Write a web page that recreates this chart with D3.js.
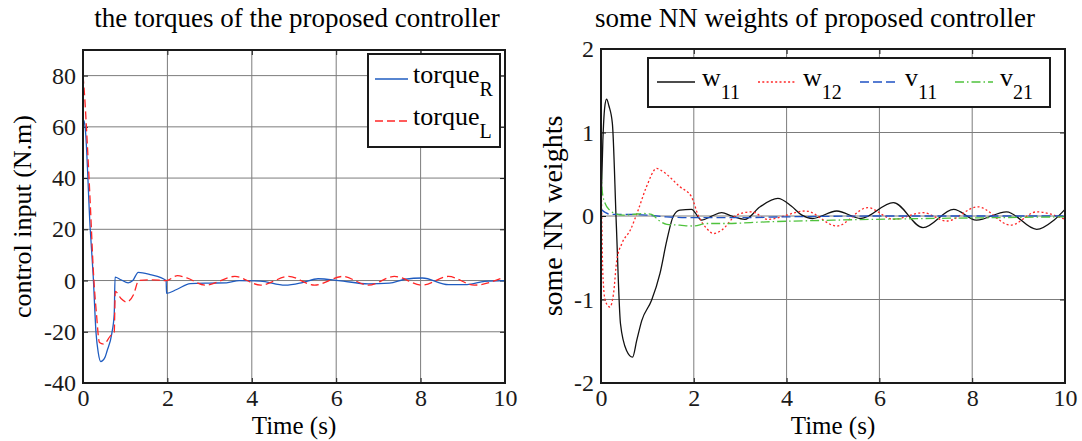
<!DOCTYPE html>
<html>
  <head>
    <meta charset="utf-8">
    <title>torques and NN weights of the proposed controller</title>
    <script src="https://cdn.jsdelivr.net/npm/d3@7"></script>
    <style>
      body { margin: 0; background: #fff; }
      svg, svg text { font-family: "Liberation Serif", "Times New Roman", serif; }
      svg { display: block; }
      .grid line { stroke: #7c7c7c; stroke-width: 1; }
      .frame { fill: none; stroke: #1a1a1a; stroke-width: 2; }
      .series { fill: none; stroke-width: 1.3; }
      .tick line { stroke: #1a1a1a; }
      .legendBox { fill: #fff; stroke: #1a1a1a; stroke-width: 2; }
    </style>
  </head>
  <body>
    <svg id="chart" width="1082" height="441"></svg>
    <script>
      // data
      const timeTicks = [0, 2, 4, 6, 8, 10];
      const torqueTicks = [-40, -20, 0, 20, 40, 60, 80];
      const weightTicks = [-2, -1, 0, 1, 2];

      const torqueR = [[0, 58], [0.02, 62.5], [0.05, 60], [0.17, 20.4], [0.24, 2.4], [0.31, -20.7], [0.36, -28],
        [0.42, -31.6], [0.52, -30], [0.57, -27.5], [0.68, -20.9], [0.74, -13.1], [0.76, 1.3], [0.9, 0.3],
        [1.07, -0.9], [1.18, 0], [1.31, 3.2], [1.59, 2.3], [1.97, 0], [1.98, -5], [2.22, -3.5], [2.54, -1.2],
        [3.0, -1.0], [3.4, -0.9], [3.7, 0], [4.2, -0.2], [4.79, -1.8], [5.2, -0.8], [5.57, 0.7], [6.06, 0],
        [6.76, -1.3], [7.26, -1], [7.63, 0.5], [8.04, 1], [8.66, -1.6], [9.1, -1.6], [9.52, -0.3], [10, 0]];
      const torqueL = [[0, 80], [0.03, 74], [0.1, 54], [0.17, 30.8], [0.25, 2.4], [0.32, -13.2], [0.39, -24.2],
        [0.49, -24.8], [0.65, -21.6], [0.74, -20.3], [0.765, -4.2], [0.9, -7], [1.03, -8.4], [1.2, -5.4],
        [1.32, 0], [1.6, 0.3], [1.97, 0], [2.24, 1.9], [2.46, 1.0], [2.9, -1.8], [3.6, 1.6], [4.21, -1.8],
        [4.87, 1.6], [5.49, -1.8], [6.15, 1.6], [6.76, -1.8], [7.38, 1.6], [8.04, -1.8], [8.66, 1.6],
        [9.27, -1.8], [10, 1.5]];

      const w11 = [[0, 0.1], [0.04, 0.9], [0.08, 1.3], [0.12, 1.4], [0.17, 1.32], [0.245, 1.11], [0.33, -0.1],
        [0.42, -1.29], [0.55, -1.61], [0.68, -1.69], [0.77, -1.49], [0.88, -1.25], [1.09, -1.01], [1.27, -0.69],
        [1.42, -0.29], [1.56, 0], [1.7, 0.07], [1.95, 0.08], [2.17, -0.05], [2.39, 0], [2.6, 0.04], [2.82, 0],
        [3.1, -0.04], [3.43, 0.11], [3.81, 0.21], [4.1, 0.12], [4.33, 0.01], [4.56, -0.03], [5.08, 0.06],
        [5.6, -0.03], [6.3, 0.16], [6.94, -0.14], [7.6, 0.08], [8.09, -0.05], [8.74, 0.05], [9.39, -0.16],
        [9.76, -0.05], [10, 0.08]];
      const w12 = [[0, 0.71], [0.04, -0.69], [0.09, -1.01], [0.19, -1.09], [0.27, -0.93], [0.34, -0.53],
        [0.45, -0.33], [0.63, -0.17], [0.8, 0.07], [0.98, 0.35], [1.2, 0.57], [1.34, 0.53], [1.7, 0.35],
        [1.95, 0.23], [2.1, 0], [2.28, -0.15], [2.42, -0.21], [2.6, -0.17], [2.92, 0.01], [3.25, 0.05],
        [3.59, -0.04], [4.41, 0.06], [5.08, -0.12], [5.75, 0.1], [6.3, -0.04], [6.94, 0.04], [7.45, -0.06],
        [8.12, 0.11], [8.83, -0.11], [9.39, 0.05], [10, -0.04]];
      const v11 = [[0, 0.08], [0.1, 0.04], [0.2, 0.02], [0.6, 0.02], [1.0, 0.01], [1.4, -0.01], [2.0, -0.02],
        [3.0, -0.02], [4.0, -0.01], [6, 0], [10, 0]];
      const v21 = [[0, 0.75], [0.01, 0.5], [0.03, 0.28], [0.09, 0.15], [0.19, 0.07], [0.3, 0.03], [0.48, 0.01],
        [0.7, 0.02], [0.91, 0.03], [1.09, 0.02], [1.24, -0.05], [1.42, -0.1], [1.7, -0.11], [1.98, -0.12],
        [2.28, -0.09], [2.64, -0.09], [3.57, -0.07], [5, -0.05], [7, -0.03], [8.5, -0.02], [10, -0.01]];

      const svg = d3.select("#chart");

      // left panel: torques
      drawPanel({
        id: "torques",
        left: 83, right: 505, top: 50, bottom: 383,
        yDomain: [-40, 90], yTicks: torqueTicks,
        title: "the torques of the proposed controller", titleX: 297,
        yLabel: "control input (N.m)", yLabelX: 31, yLabelSize: 26,
        series: [
          { name: "torque", sub: "R", data: torqueR, colour: "#1f5cc0", dash: null },
          { name: "torque", sub: "L", data: torqueL, colour: "#ff2626", dash: "8,4" }
        ],
        legend: { x: 368, y: 54, w: 132, h: 93, vertical: true, sample: 33, gap: 5 }
      });

      // right panel: weights
      drawPanel({
        id: "weights",
        left: 601, right: 1065, top: 49, bottom: 383,
        yDomain: [-2, 2], yTicks: weightTicks,
        title: "some NN weights of proposed controller", titleX: 815,
        yLabel: "some NN weights", yLabelX: 562, yLabelSize: 28,
        series: [
          { name: "w", sub: "11", data: w11, colour: "#111111", dash: null },
          { name: "w", sub: "12", data: w12, colour: "#ff2626", dash: "2,2.3" },
          { name: "v", sub: "11", data: v11, colour: "#1f52c4", dash: "9,4" },
          { name: "v", sub: "21", data: v21, colour: "#4fc23c", dash: "9,3,1.5,3" }
        ],
        legend: { x: 648, y: 58, w: 402, h: 49, vertical: false, sample: 38, gap: 7, starts: [657, 758, 860, 955] }
      });

      function drawPanel(cfg) {
        const x = d3.scaleLinear().domain([0, 10]).range([cfg.left, cfg.right]);
        const y = d3.scaleLinear().domain(cfg.yDomain).range([cfg.bottom, cfg.top]);
        const g = svg.append("g").attr("id", cfg.id);

        // grid
        const grid = g.append("g").attr("class", "grid");
        grid.selectAll("line.gx")
          .data(timeTicks.slice(1, -1))
          .join("line")
            .attr("class", "gx")
            .attr("x1", d => x(d)).attr("x2", d => x(d))
            .attr("y1", cfg.top).attr("y2", cfg.bottom);
        grid.selectAll("line.gy")
          .data(cfg.yTicks.filter(d => y(d) > cfg.top + 1 && y(d) < cfg.bottom - 1))
          .join("line")
            .attr("class", "gy")
            .attr("x1", cfg.left).attr("x2", cfg.right)
            .attr("y1", d => y(d)).attr("y2", d => y(d));

        // axes, ticks pointing inwards
        const fmt = d => String(d);
        const axes = [
          [d3.axisBottom(x).tickValues(timeTicks).tickFormat(fmt).tickPadding(6), `translate(0,${cfg.bottom})`],
          [d3.axisTop(x).tickValues(timeTicks).tickFormat(""), `translate(0,${cfg.top})`],
          [d3.axisLeft(y).tickValues(cfg.yTicks).tickFormat(fmt).tickPadding(7), `translate(${cfg.left},0)`],
          [d3.axisRight(y).tickValues(cfg.yTicks).tickFormat(""), `translate(${cfg.right},0)`]
        ];
        axes.forEach(function(a) {
          const ag = g.append("g")
            .attr("transform", a[1])
            .call(a[0].tickSize(-5));
          ag.select(".domain").remove();
          ag.attr("font-family", null).attr("font-size", null);
          ag.selectAll("text")
            .attr("fill", "#1a1a1a")
            .style("font-family", "'Liberation Serif', serif")
            .style("font-size", "24px");
        });

        // lines
        g.append("clipPath").attr("id", cfg.id + "Clip")
          .append("rect")
            .attr("x", cfg.left).attr("y", cfg.top)
            .attr("width", cfg.right - cfg.left).attr("height", cfg.bottom - cfg.top);
        const line = d3.line()
          .x(d => x(d[0]))
          .y(d => y(d[1]))
          .curve(d3.curveMonotoneX);
        g.append("g")
          .attr("clip-path", `url(#${cfg.id}Clip)`)
          .selectAll("path")
          .data(cfg.series)
          .join("path")
            .attr("class", "series")
            .attr("stroke", d => d.colour)
            .attr("stroke-dasharray", d => d.dash)
            .attr("d", d => line(d.data));

        // frame
        g.append("rect")
          .attr("class", "frame")
          .attr("x", cfg.left).attr("y", cfg.top)
          .attr("width", cfg.right - cfg.left).attr("height", cfg.bottom - cfg.top);

        // titles and labels
        g.append("text")
          .attr("x", cfg.titleX).attr("y", 27)
          .attr("text-anchor", "middle")
          .style("font-size", "27px")
          .text(cfg.title);
        g.append("text")
          .attr("x", (cfg.left + cfg.right) / 2).attr("y", 434)
          .attr("text-anchor", "middle")
          .style("font-size", "25px")
          .text("Time (s)");
        g.append("text")
          .attr("transform", `translate(${cfg.yLabelX},${(cfg.top + cfg.bottom) / 2}) rotate(-90)`)
          .attr("text-anchor", "middle")
          .style("font-size", cfg.yLabelSize + "px")
          .text(cfg.yLabel);

        // legend
        const lg = cfg.legend;
        const leg = g.append("g");
        leg.append("rect")
          .attr("class", "legendBox")
          .attr("x", lg.x).attr("y", lg.y)
          .attr("width", lg.w).attr("height", lg.h);
        const items = leg.selectAll("g.item")
          .data(cfg.series)
          .join("g")
            .attr("class", "item")
            .attr("transform", (d, i) => lg.vertical ?
              `translate(${lg.x + 7},${lg.y + 25 + i * 42})` :
              `translate(${lg.starts[i]},${lg.y + 24})`);
        items.append("line")
          .attr("x1", 0).attr("x2", lg.sample)
          .attr("stroke", d => d.colour)
          .attr("stroke-width", 1.3)
          .attr("stroke-dasharray", d => d.dash);
        const label = items.append("text")
          .attr("x", lg.sample + lg.gap)
          .attr("y", 4)
          .style("font-size", "26px");
        label.append("tspan").text(d => d.name);
        label.append("tspan")
          .attr("dy", 13)
          .style("font-size", "20px")
          .text(d => d.sub);
      }
    </script>
  </body>
</html>
